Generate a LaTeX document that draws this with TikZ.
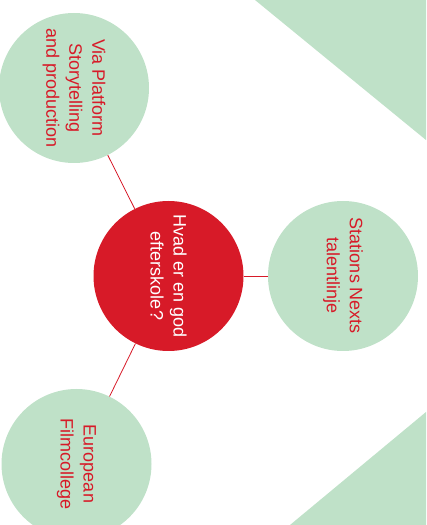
\documentclass[tikz,border=0pt]{standalone}
\usepackage{fontspec}
\setmainfont{Liberation Sans}
\definecolor{mint}{HTML}{BFE1C8}
\definecolor{efred}{HTML}{D71A28}
\begin{document}
\begin{tikzpicture}[x=1pt, y=1pt,
    bubble/.style={circle, fill=mint, text=efred, minimum size=150pt, inner sep=0pt,
        rotate=-90, align=center, font=\fontsize{18}{23}\selectfont},
    hubble/.style={bubble, fill=efred, text=white},
    link/.style={draw=efred, line width=0.8pt}]
    \useasboundingbox (0,0) rectangle (426,525);

    % the green corners
    \fill[mint] (255,525) -- (426,525) -- (426,385) -- cycle;
    \fill[mint] (290,0) -- (426,113) -- (426,0) -- cycle;

    % the bubbles
    \node[hubble] (hub) at (168.5,249) {Hvad er en god\\efterskole?};
    \node[bubble] (via) at (74,437) {Via Platform\\Storytelling\\and production};
    \node[bubble] (stations) at (343,249) {Stations Nexts\\talentlinje};
    \node[bubble] (euro) at (76.5,61) {European\\Filmcollege};

    % the links
    \draw[link] (hub) -- (via);
    \draw[link] (hub) -- (stations);
    \draw[link] (hub) -- (euro);

\end{tikzpicture}
\end{document}
